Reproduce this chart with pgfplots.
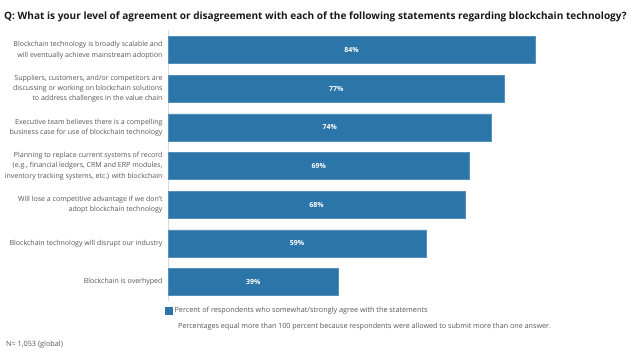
\documentclass[border=0pt]{standalone}
\usepackage{pgfplots}
\pgfplotsset{compat=1.18}
\usepackage{fontspec}
\setmainfont{Open Sans}
\definecolor{barblue}{RGB}{44,117,168}
\definecolor{lbl}{RGB}{85,85,85}
\begin{document}
\begin{tikzpicture}
\useasboundingbox (0,0) rectangle (640bp,354bp);
\node[anchor=base west, inner sep=0pt, font=\bfseries\fontsize{10.1}{11}\selectfont, text=black!90] at (4bp,334bp) {Q: What is your level of agreement or disagreement with each of the following statements regarding blockchain technology?};
\begin{axis}[
  at={(168bp,53bp)}, anchor=south west,
  scale only axis, width=437bp, height=271bp,
  xmin=0, xmax=100,
  ymin=-0.52, ymax=6.49, y dir=reverse,
  axis x line=none,
  axis y line*=left,
  y axis line style={draw=black!15, line width=0.6pt},
  ytick={0,...,6},
  yticklabels={
    {Blockchain technology is broadly scalable and\\will eventually achieve mainstream adoption},
    {Suppliers, customers, and/or competitors are\\discussing or working on blockchain solutions\\to address challenges in the value chain},
    {Executive team believes there is a compelling\\business case for use of blockchain technology},
    {Planning to replace current systems of record\\(e.g., financial ledgers, CRM and ERP modules,\\inventory tracking systems, etc.) with blockchain},
    {Will lose a competitive advantage if we don't\\adopt blockchain technology},
    {Blockchain technology will disrupt our industry},
    {Blockchain is overhyped}},
  major tick length=0pt,
  yticklabel style={align=right, font=\fontsize{7.05}{10.4}\selectfont, text=lbl, xshift=-2bp},
  legend style={at={(axis description cs:0,0)}, anchor=north west, yshift=-4bp, xshift=-3bp, draw=none, fill=none,
    font=\fontsize{7.3}{8}\selectfont, text=lbl, inner sep=0pt, row sep=0pt},
  legend cell align=left,
  clip=false,
]
\addplot[xbar, bar width=0.70, fill=barblue, draw=barblue!80!white, line width=0.4pt,
  legend image code/.code={\fill[barblue] (0bp,-3.5bp) rectangle (7bp,3.5bp);}]
  coordinates {(84,0) (77,1) (74,2) (69,3) (68,4) (59,5) (39,6)};
\addlegendentry{Percent of respondents who somewhat/strongly agree with the statements}
\addplot[only marks, mark=none, point meta=explicit,
  nodes near coords={\pgfmathprintnumber[assume math mode=true]{\pgfplotspointmeta}\%},
  every node near coord/.append style={anchor=center, text=white, font=\bfseries\fontsize{7}{8}\selectfont},
  forget plot]
  coordinates {(42,0) [84] (38.5,1) [77] (37,2) [74] (34.5,3) [69] (34,4) [68] (29.5,5) [59] (19.5,6) [39]};
\end{axis}
\node[anchor=base west, inner sep=0pt, font=\fontsize{7.2}{8}\selectfont, text=lbl] at (178bp,26bp) {Percentages equal more than 100 percent because respondents were allowed to submit more than one answer.};
\node[anchor=base west, inner sep=0pt, font=\fontsize{7.3}{8}\selectfont, text=lbl] at (6bp,8bp) {N= 1,053 (global)};
\end{tikzpicture}
\end{document}
